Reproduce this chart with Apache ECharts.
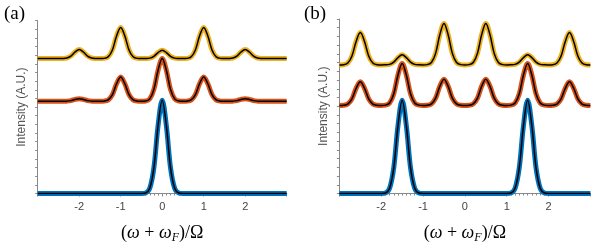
<!DOCTYPE html>
<html><head><meta charset="utf-8">
<script src="https://cdn.jsdelivr.net/npm/echarts@6/dist/echarts.min.js"></script>
<style>html,body{margin:0;padding:0;background:#fff}#c{width:597px;height:249px}</style>
</head><body><div id="c"></div>
<script>
// x grid (ω+ωF)/Ω
const xs = [-3,-2.9,-2.8,-2.7,-2.6,-2.5,-2.4,-2.3,-2.2,-2.1,-2,-1.9,-1.8,-1.7,-1.6,-1.5,-1.4,-1.3,-1.2,-1.1,-1,-0.9,-0.8,-0.7,-0.6,-0.5,-0.4,-0.3,-0.2,-0.1,0,0.1,0.2,0.3,0.4,0.5,0.6,0.7,0.8,0.9,1,1.1,1.2,1.3,1.4,1.5,1.6,1.7,1.8,1.9,2,2.1,2.2,2.3,2.4,2.5,2.6,2.7,2.8,2.9,3];
const xTickLabels = ['-2','-1','0','1','2'];

// Panel (a)
const blueA = [0,0,0,0,0,0,0,0,0,0,0,0,0,0,0,0,0,0,0,0,0,0,0,0,0,0,
  0.06,0.6,3.0,7.84,10.8,7.84,3.0,0.6,0.06,
  0,0,0,0,0,0,0,0,0,0,0,0,0,0,0,0,0,0,0,0,0,0,0,0,0,0];
const redA = [10.67,10.67,10.67,10.67,10.67,10.67,10.67,
  10.69,10.75,10.89,10.97,10.89,10.75,10.69,
  10.67,10.67,
  10.69,10.83,11.45,12.70,13.47,12.70,11.45,10.83,10.69,
  10.67,
  10.70,10.95,12.05,14.26,15.62,14.26,12.05,10.95,10.70,
  10.67,
  10.69,10.83,11.45,12.70,13.47,12.70,11.45,10.83,10.69,
  10.67,10.67,
  10.69,10.75,10.89,10.97,10.89,10.75,10.69,
  10.67,10.67,10.67,10.67,10.67,10.67,10.67];
const yellowA = [15.62,15.62,15.62,15.62,15.62,15.62,
  15.63,15.68,15.91,16.38,16.67,16.38,15.91,15.68,15.63,
  15.62,
  15.64,15.82,16.62,18.23,19.22,18.23,16.62,15.82,15.64,
  15.62,
  15.63,15.67,15.88,16.31,16.57,16.31,15.88,15.67,15.63,
  15.62,
  15.64,15.82,16.62,18.23,19.22,18.23,16.62,15.82,15.64,
  15.62,
  15.63,15.68,15.91,16.38,16.67,16.38,15.91,15.68,15.63,
  15.62,15.62,15.62,15.62,15.62,15.62];

// Panel (b)
const blueB = [0,0,0,0,0,0,0,0,0,0,0,
  0.06,0.6,2.97,7.77,10.7,7.77,2.97,0.6,0.06,
  0,0,0,0,0,0,0,0,0,0,0,0,0,0,0,0,0,0,0,0,0,
  0.06,0.6,2.97,7.77,10.7,7.77,2.97,0.6,0.06,
  0,0,0,0,0,0,0,0,0,0,0];
const redB = [10.1,10.12,10.25,10.85,12.06,12.8,12.06,10.85,10.25,10.12,10.1,
  10.13,10.37,11.43,13.58,14.9,13.58,11.43,10.37,10.13,10.1,
  10.12,10.27,10.93,12.28,13.1,12.28,10.93,10.27,10.12,10.1,
  10.12,10.27,10.93,12.28,13.1,12.28,10.93,10.27,10.12,10.1,
  10.13,10.37,11.43,13.58,14.9,13.58,11.43,10.37,10.13,10.1,
  10.12,10.25,10.85,12.06,12.8,12.06,10.85,10.25,10.12,10.1];
const yellowB = [14.74,14.76,14.95,15.77,17.43,18.44,17.43,15.77,14.95,14.76,14.74,
  14.75,14.80,15.06,15.57,15.89,15.57,15.06,14.80,14.75,14.74,
  14.77,15.01,16.06,18.19,19.49,18.19,16.06,15.01,14.77,14.74,
  14.77,15.01,16.06,18.19,19.49,18.19,16.06,15.01,14.77,14.74,
  14.75,14.80,15.06,15.57,15.89,15.57,15.06,14.80,14.75,14.74,
  14.76,14.95,15.77,17.43,18.44,17.43,15.77,14.95,14.76,14.74];

const COLORS = {blue:'#0072BD', red:'#D95319', yellow:'#EDB120'};

const chart = echarts.init(document.getElementById('c'), null, {renderer:'canvas'});
const pairs = arr => xs.map((x,i)=>[x,arr[i]]);

function xAxisFor(idx){
  return {
    type:'value', gridIndex:idx, min:-3, max:3, interval:1,
    name:'{n|(}{i|ω}{n| + }{i|ω}{s|F}{n|)/Ω}',
    nameLocation:'middle', nameGap:30,
    nameTextStyle:{rich:{
      n:{fontFamily:'Liberation Serif', fontSize:18, color:'#000', lineHeight:20, verticalAlign:'middle'},
      i:{fontFamily:'Liberation Serif', fontStyle:'italic', fontSize:18, color:'#000', lineHeight:20, verticalAlign:'middle'},
      s:{fontFamily:'Liberation Serif', fontStyle:'italic', fontSize:12, color:'#000', lineHeight:12, padding:[9,0,0,0], verticalAlign:'middle'}
    }},
    axisLine:{onZero:false, lineStyle:{color:'#888', width:1}},
    axisTick:{show:true, inside:false, length:3, lineStyle:{color:'#888'}},
    minorTick:{show:true, splitNumber:10, length:2, lineStyle:{color:'#888'}},
    splitLine:{show:false},
    axisLabel:{margin:8, fontFamily:'Liberation Sans', fontSize:11, color:'#444',
      formatter: v => { const s = String(v); return xTickLabels.indexOf(s) >= 0 ? s : ''; }}
  };
}
function yAxisFor(idx){
  return {
    type:'value', gridIndex:idx, min:0, max:20, interval:1,
    name:'Intensity (A.U.)', nameLocation:'middle', nameGap:10, nameRotate:90,
    nameTextStyle:{fontFamily:'Liberation Sans', fontSize:12, color:'#555'},
    axisLine:{show:true, onZero:false, lineStyle:{color:'#888', width:1}},
    axisTick:{show:true, inside:false, length:2.5, lineStyle:{color:'#888'}},
    axisLabel:{show:false},
    splitLine:{show:false}
  };
}
function traces(arr, color, idx){
  return [
    {type:'line', xAxisIndex:idx, yAxisIndex:idx, data:pairs(arr), showSymbol:false, smooth:0.35,
     lineStyle:{color:color, width:5}, z:2, silent:true},
    {type:'line', xAxisIndex:idx, yAxisIndex:idx, data:pairs(arr), showSymbol:false, smooth:0.35,
     lineStyle:{color:'#000', width:1.5}, z:3, silent:true}
  ];
}

chart.setOption({
  animation:false,
  title:[
    {text:'(a)', left:-1, top:0, textStyle:{fontFamily:'Liberation Serif', fontSize:19, fontWeight:'normal', color:'#000'}},
    {text:'(b)', left:299, top:0, textStyle:{fontFamily:'Liberation Serif', fontSize:19, fontWeight:'normal', color:'#000'}}
  ],
  grid:[
    {left:37.7, top:20.7, width:249, height:188.6},
    {left:339.4, top:19, width:251, height:190.3}
  ],
  xAxis:[xAxisFor(0), xAxisFor(1)],
  yAxis:[yAxisFor(0), yAxisFor(1)],
  series:[].concat(
    traces(blueA, COLORS.blue, 0), traces(redA, COLORS.red, 0), traces(yellowA, COLORS.yellow, 0),
    traces(blueB, COLORS.blue, 1), traces(redB, COLORS.red, 1), traces(yellowB, COLORS.yellow, 1)
  )
});
</script></body></html>
